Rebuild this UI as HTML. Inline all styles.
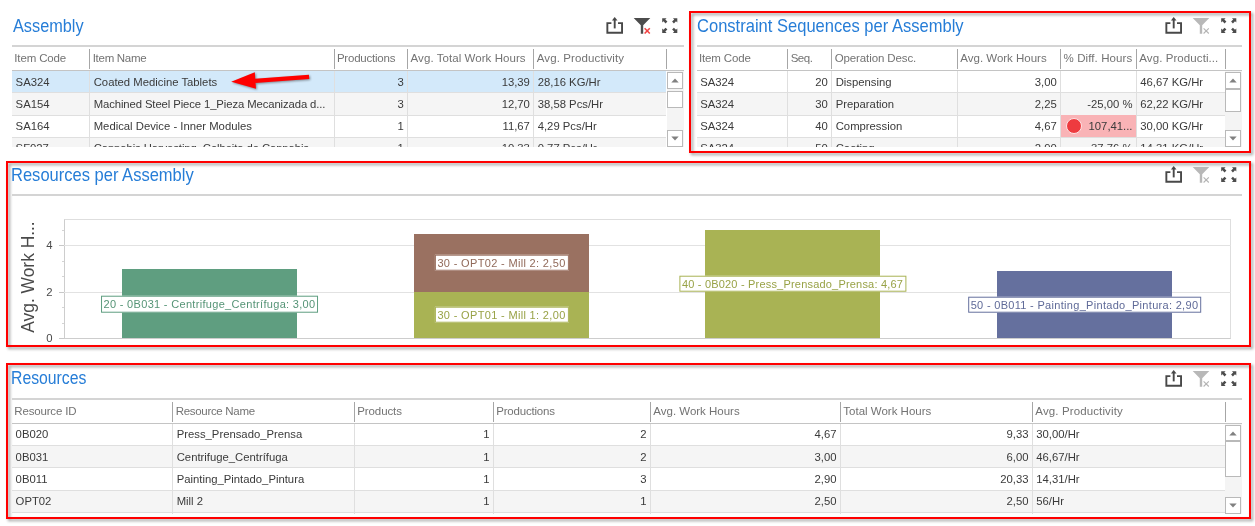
<!DOCTYPE html>
<html><head><meta charset="utf-8"><title>Dashboard</title><style>
*{box-sizing:border-box;margin:0;padding:0}
html,body{width:1255px;height:526px;overflow:hidden;background:#fff}
body{position:relative;font-family:"Liberation Sans",sans-serif;font-size:11.3px;color:#3a3a3a}
#wrap{position:absolute;left:0;top:0;width:1255px;height:526px;overflow:hidden;filter:blur(.4px)}
.abs{position:absolute}
.t{position:absolute;white-space:nowrap;line-height:1}
.title{color:#267dd7;transform-origin:0 50%;transform:scaleX(.926)}
.hd{color:#737373}
.r{text-align:right}
.red{position:absolute;border:2px solid #ff0000;filter:drop-shadow(2px 2px 1.8px rgba(0,0,0,.4))}
.ln{position:absolute;background:#d2d2d2}
.sep{position:absolute;background:#a8a8a8;width:1px}
.vl{position:absolute;background:#dedede;width:1px}
.hl{position:absolute;background:#dedede;height:1px}
.sbtrack{position:absolute;background:#f0f0f0}
.sbbtn{position:absolute;background:#fff;border:1px solid #b9b9b9}
.lbl{position:absolute;background:#fff;border:1px solid;font-family:"Liberation Sans",sans-serif;letter-spacing:.25px;white-space:nowrap;line-height:1}
</style></head><body><div id="wrap">
<div class="t title" style="left:12.60px;top:18px;font-size:17.6px;">Assembly</div>
<svg class="abs" style="left:606.00px;top:17.10px;overflow:visible" width="74" height="20" viewBox="0 0 74 20">
<g fill="none" stroke="#484848" stroke-width="1.9"><path d="M5.4 6.15H1.35V15.75H16.05V6.15H12"/><path d="M8.7 11.4V2"/></g>
<path d="M5.9 3.5L8.7 0L11.5 3.5Z" fill="#484848"/>
<path d="M27.7 1H44.3L37.2 8.3V16.7H34.8V8.3Z" fill="#4c4c4c"/>
<path d="M38.6 11.3L43.8 16.5M43.8 11.3L38.6 16.5" stroke="#f24444" stroke-width="1.6" fill="none"/>
<g fill="#4c4c4c"><path d="M56.2 1.2H60.6L59.3 2.5L61.4 4.6L59.6 6.4L57.5 4.3L56.2 5.6Z"/><path d="M71.3 1.2V5.6L70 4.3L67.9 6.4L66.1 4.6L68.2 2.5L66.9 1.2Z"/><path d="M56.2 15.9V11.5L57.5 12.8L59.6 10.7L61.4 12.5L59.3 14.6L60.6 15.9Z"/><path d="M71.3 15.9H66.9L68.2 14.6L66.1 12.5L67.9 10.7L70 12.8L71.3 11.5Z"/></g>
</svg>
<div class="abs" style="left:12.00px;top:45.00px;width:671.60px;height:2.00px;background:#d4d4d4;"></div>
<div class="abs" style="left:12.00px;top:70.00px;width:671.60px;height:1.00px;background:#c4c4c4;"></div>
<div class="abs" style="left:0;top:0;width:1255px;height:147.4px;overflow:hidden">
<div class="abs" style="left:12.00px;top:71.00px;width:654.40px;height:21.40px;background:#d3e9fa;"></div>
<div class="abs" style="left:12.00px;top:92.40px;width:654.40px;height:1.00px;background:#dfdfdf;"></div>
<div class="t " style="left:15.60px;top:77px;font-size:11.3px;">SA324</div>
<div class="t " style="left:93.70px;top:77px;font-size:11.3px;">Coated Medicine Tablets</div>
<div class="t " style="right:851.20px;top:77px;font-size:11.3px;">3</div>
<div class="t " style="right:725.10px;top:77px;font-size:11.3px;">13,39</div>
<div class="t " style="left:537.70px;top:77px;font-size:11.3px;">28,16 KG/Hr</div>
<div class="abs" style="left:12.00px;top:93.40px;width:654.40px;height:21.40px;background:#f5f5f5;"></div>
<div class="abs" style="left:12.00px;top:114.80px;width:654.40px;height:1.00px;background:#dfdfdf;"></div>
<div class="t " style="left:15.60px;top:99px;font-size:11.3px;">SA154</div>
<div class="t " style="left:93.70px;top:99px;font-size:11.3px;letter-spacing:-.1px">Machined Steel Piece 1_Pieza Mecanizada d...</div>
<div class="t " style="right:851.20px;top:99px;font-size:11.3px;">3</div>
<div class="t " style="right:725.10px;top:99px;font-size:11.3px;">12,70</div>
<div class="t " style="left:537.70px;top:99px;font-size:11.3px;">38,58 Pcs/Hr</div>
<div class="abs" style="left:12.00px;top:137.20px;width:654.40px;height:1.00px;background:#dfdfdf;"></div>
<div class="t " style="left:15.60px;top:121px;font-size:11.3px;">SA164</div>
<div class="t " style="left:93.70px;top:121px;font-size:11.3px;">Medical Device - Inner Modules</div>
<div class="t " style="right:851.20px;top:121px;font-size:11.3px;">1</div>
<div class="t " style="right:725.10px;top:121px;font-size:11.3px;">11,67</div>
<div class="t " style="left:537.70px;top:121px;font-size:11.3px;">4,29 Pcs/Hr</div>
<div class="abs" style="left:12.00px;top:138.20px;width:654.40px;height:21.40px;background:#f5f5f5;"></div>
<div class="abs" style="left:12.00px;top:159.60px;width:654.40px;height:1.00px;background:#dfdfdf;"></div>
<div class="t " style="left:15.60px;top:143px;font-size:11.3px;">SF027</div>
<div class="t " style="left:93.70px;top:143px;font-size:11.3px;letter-spacing:-.1px">Cannabis Harvesting_Colheita de Cannabis</div>
<div class="t " style="right:851.20px;top:143px;font-size:11.3px;">1</div>
<div class="t " style="right:725.10px;top:143px;font-size:11.3px;">10,33</div>
<div class="t " style="left:537.70px;top:143px;font-size:11.3px;">0,77 Pcs/Hr</div>
<div class="abs" style="left:89.40px;top:71.00px;width:1.00px;height:76.40px;background:#dfdfdf;"></div>
<div class="abs" style="left:333.60px;top:71.00px;width:1.00px;height:76.40px;background:#dfdfdf;"></div>
<div class="abs" style="left:407.30px;top:71.00px;width:1.00px;height:76.40px;background:#dfdfdf;"></div>
<div class="abs" style="left:533.40px;top:71.00px;width:1.00px;height:76.40px;background:#dfdfdf;"></div>
</div>
<div class="abs" style="left:89.40px;top:49.00px;width:1.00px;height:20.00px;background:#a6a6a6;"></div>
<div class="abs" style="left:333.60px;top:49.00px;width:1.00px;height:20.00px;background:#a6a6a6;"></div>
<div class="abs" style="left:407.30px;top:49.00px;width:1.00px;height:20.00px;background:#a6a6a6;"></div>
<div class="abs" style="left:533.40px;top:49.00px;width:1.00px;height:20.00px;background:#a6a6a6;"></div>
<div class="abs" style="left:666.40px;top:49.00px;width:1.00px;height:20.00px;background:#a6a6a6;"></div>
<div class="t hd" style="left:14.30px;top:53px;font-size:11.5px;letter-spacing:-0.138px">Item Code</div>
<div class="t hd" style="left:92.70px;top:53px;font-size:11.5px;letter-spacing:-0.28px">Item Name</div>
<div class="t hd" style="left:336.90px;top:53px;font-size:11.5px;letter-spacing:-0.213px">Productions</div>
<div class="t hd" style="left:410.60px;top:53px;font-size:11.5px;letter-spacing:0.061px">Avg. Total Work Hours</div>
<div class="t hd" style="left:536.70px;top:53px;font-size:11.5px;letter-spacing:0.123px">Avg. Productivity</div>
<div class="abs" style="left:666.60px;top:71.00px;width:17.40px;height:76.40px;background:#f4f4f4;"></div>
<div class="sbbtn" style="left:666.70px;top:72.40px;width:16.40px;height:16.4px"></div>
<svg class="abs" style="left:670.70px;top:78.20px" width="8" height="5" viewBox="0 0 8 5"><path d="M0.3 4.6L4 0.4L7.7 4.6Z" fill="#808080"/></svg>
<div class="sbbtn" style="left:666.70px;top:90.60px;width:16.40px;height:17.80px"></div>
<div class="sbbtn" style="left:666.70px;top:130.40px;width:16.40px;height:16.6px"></div>
<svg class="abs" style="left:670.70px;top:136.40px" width="8" height="5" viewBox="0 0 8 5"><path d="M0.3 0.4L4 4.6L7.7 0.4Z" fill="#808080"/></svg>
<svg class="abs" style="left:225px;top:66px;filter:drop-shadow(1.2px 1.2px .8px rgba(0,0,0,.4))" width="95" height="30" viewBox="225 66 95 30"><path d="M255 80.9L309.1 76.9" stroke="#ff0000" stroke-width="4.4" fill="none"/><path d="M231.2 81.8L254.8 72.2L256 88.7Z" fill="#ff0000"/></svg>
<div class="red" style="left:689px;top:11px;width:562px;height:142px"></div>
<div class="t title" style="left:696.60px;top:18px;font-size:17.7px;transform:scaleX(.935)">Constraint Sequences per Assembly</div>
<svg class="abs" style="left:1164.60px;top:17.10px;overflow:visible" width="74" height="20" viewBox="0 0 74 20">
<g fill="none" stroke="#484848" stroke-width="1.9"><path d="M5.4 6.15H1.35V15.75H16.05V6.15H12"/><path d="M8.7 11.4V2"/></g>
<path d="M5.9 3.5L8.7 0L11.5 3.5Z" fill="#484848"/>
<path d="M27.7 1H44.3L37.2 8.3V16.7H34.8V8.3Z" fill="#b8b8b8"/>
<path d="M38.6 11.3L43.8 16.5M43.8 11.3L38.6 16.5" stroke="#b4b4b4" stroke-width="1.1" fill="none"/>
<g fill="#4c4c4c"><path d="M56.2 1.2H60.6L59.3 2.5L61.4 4.6L59.6 6.4L57.5 4.3L56.2 5.6Z"/><path d="M71.3 1.2V5.6L70 4.3L67.9 6.4L66.1 4.6L68.2 2.5L66.9 1.2Z"/><path d="M56.2 15.9V11.5L57.5 12.8L59.6 10.7L61.4 12.5L59.3 14.6L60.6 15.9Z"/><path d="M71.3 15.9H66.9L68.2 14.6L66.1 12.5L67.9 10.7L70 12.8L71.3 11.5Z"/></g>
</svg>
<div class="abs" style="left:696.60px;top:45.00px;width:545.40px;height:2.00px;background:#d4d4d4;"></div>
<div class="abs" style="left:696.60px;top:70.00px;width:545.40px;height:1.00px;background:#c4c4c4;"></div>
<div class="abs" style="left:0;top:0;width:1255px;height:147.4px;overflow:hidden">
<div class="abs" style="left:696.60px;top:92.40px;width:528.20px;height:1.00px;background:#dfdfdf;"></div>
<div class="t " style="left:700.20px;top:77px;font-size:11.3px;">SA324</div>
<div class="t " style="right:427.10px;top:77px;font-size:11.3px;">20</div>
<div class="t " style="left:835.70px;top:77px;font-size:11.3px;">Dispensing</div>
<div class="t " style="right:198.20px;top:77px;font-size:11.3px;">3,00</div>
<div class="t " style="left:1140.30px;top:77px;font-size:11.3px;">46,67 KG/Hr</div>
<div class="abs" style="left:696.60px;top:93.40px;width:528.20px;height:21.40px;background:#f5f5f5;"></div>
<div class="abs" style="left:696.60px;top:114.80px;width:528.20px;height:1.00px;background:#dfdfdf;"></div>
<div class="t " style="left:700.20px;top:99px;font-size:11.3px;">SA324</div>
<div class="t " style="right:427.10px;top:99px;font-size:11.3px;">30</div>
<div class="t " style="left:835.70px;top:99px;font-size:11.3px;">Preparation</div>
<div class="t " style="right:198.20px;top:99px;font-size:11.3px;">2,25</div>
<div class="t " style="right:122.50px;top:99px;font-size:11.3px;">-25,00 %</div>
<div class="t " style="left:1140.30px;top:99px;font-size:11.3px;">62,22 KG/Hr</div>
<div class="abs" style="left:696.60px;top:137.20px;width:528.20px;height:1.00px;background:#dfdfdf;"></div>
<div class="abs" style="left:1061.00px;top:115.30px;width:75.00px;height:21.40px;background:#f9b3b6;"></div>
<div class="abs" style="left:1065.6px;top:118.40px;width:16px;height:16px;border-radius:50%;background:#ee3b3f;border:1px solid #fde4e5"></div>
<div class="t " style="left:700.20px;top:121px;font-size:11.3px;">SA324</div>
<div class="t " style="right:427.10px;top:121px;font-size:11.3px;">40</div>
<div class="t " style="left:835.70px;top:121px;font-size:11.3px;">Compression</div>
<div class="t " style="right:198.20px;top:121px;font-size:11.3px;">4,67</div>
<div class="t " style="right:122.50px;top:121px;font-size:11.3px;">107,41...</div>
<div class="t " style="left:1140.30px;top:121px;font-size:11.3px;">30,00 KG/Hr</div>
<div class="abs" style="left:696.60px;top:138.20px;width:528.20px;height:21.40px;background:#f5f5f5;"></div>
<div class="abs" style="left:696.60px;top:159.60px;width:528.20px;height:1.00px;background:#dfdfdf;"></div>
<div class="t " style="left:700.20px;top:143px;font-size:11.3px;">SA324</div>
<div class="t " style="right:427.10px;top:143px;font-size:11.3px;">50</div>
<div class="t " style="left:835.70px;top:143px;font-size:11.3px;">Coating</div>
<div class="t " style="right:198.20px;top:143px;font-size:11.3px;">2,90</div>
<div class="t " style="right:122.50px;top:143px;font-size:11.3px;">-37,76 %</div>
<div class="t " style="left:1140.30px;top:143px;font-size:11.3px;">14,31 KG/Hr</div>
<div class="abs" style="left:787.40px;top:71.00px;width:1.00px;height:76.40px;background:#dfdfdf;"></div>
<div class="abs" style="left:831.40px;top:71.00px;width:1.00px;height:76.40px;background:#dfdfdf;"></div>
<div class="abs" style="left:957.00px;top:71.00px;width:1.00px;height:76.40px;background:#dfdfdf;"></div>
<div class="abs" style="left:1060.30px;top:71.00px;width:1.00px;height:76.40px;background:#dfdfdf;"></div>
<div class="abs" style="left:1136.00px;top:71.00px;width:1.00px;height:76.40px;background:#dfdfdf;"></div>
</div>
<div class="abs" style="left:787.40px;top:49.00px;width:1.00px;height:20.00px;background:#a6a6a6;"></div>
<div class="abs" style="left:831.40px;top:49.00px;width:1.00px;height:20.00px;background:#a6a6a6;"></div>
<div class="abs" style="left:957.00px;top:49.00px;width:1.00px;height:20.00px;background:#a6a6a6;"></div>
<div class="abs" style="left:1060.30px;top:49.00px;width:1.00px;height:20.00px;background:#a6a6a6;"></div>
<div class="abs" style="left:1136.00px;top:49.00px;width:1.00px;height:20.00px;background:#a6a6a6;"></div>
<div class="abs" style="left:1224.80px;top:49.00px;width:1.00px;height:20.00px;background:#a6a6a6;"></div>
<div class="t hd" style="left:698.90px;top:53px;font-size:11.5px;letter-spacing:-0.138px">Item Code</div>
<div class="t hd" style="left:790.70px;top:53px;font-size:11.5px;letter-spacing:-0.5px">Seq.</div>
<div class="t hd" style="left:834.70px;top:53px;font-size:11.5px;letter-spacing:-0.107px">Operation Desc.</div>
<div class="t hd" style="left:960.30px;top:53px;font-size:11.5px;letter-spacing:-0.007px">Avg. Work Hours</div>
<div class="t hd" style="left:1063.60px;top:53px;font-size:11.5px;letter-spacing:0.089px">% Diff. Hours</div>
<div class="t hd" style="left:1139.30px;top:53px;font-size:11.5px;letter-spacing:0.082px">Avg. Producti...</div>
<div class="abs" style="left:1225.00px;top:71.00px;width:17.40px;height:76.40px;background:#f4f4f4;"></div>
<div class="sbbtn" style="left:1225.10px;top:72.40px;width:16.40px;height:16.4px"></div>
<svg class="abs" style="left:1229.10px;top:78.20px" width="8" height="5" viewBox="0 0 8 5"><path d="M0.3 4.6L4 0.4L7.7 4.6Z" fill="#808080"/></svg>
<div class="sbbtn" style="left:1225.10px;top:89.40px;width:16.40px;height:22.60px"></div>
<div class="sbbtn" style="left:1225.10px;top:130.40px;width:16.40px;height:16.6px"></div>
<svg class="abs" style="left:1229.10px;top:136.40px" width="8" height="5" viewBox="0 0 8 5"><path d="M0.3 0.4L4 4.6L7.7 0.4Z" fill="#808080"/></svg>
<div class="red" style="left:6px;top:161px;width:1245px;height:186px"></div>
<div class="t title" style="left:11.20px;top:167px;font-size:17.7px;transform:scaleX(.934)">Resources per Assembly</div>
<svg class="abs" style="left:1164.60px;top:166.10px;overflow:visible" width="74" height="20" viewBox="0 0 74 20">
<g fill="none" stroke="#484848" stroke-width="1.9"><path d="M5.4 6.15H1.35V15.75H16.05V6.15H12"/><path d="M8.7 11.4V2"/></g>
<path d="M5.9 3.5L8.7 0L11.5 3.5Z" fill="#484848"/>
<path d="M27.7 1H44.3L37.2 8.3V16.7H34.8V8.3Z" fill="#b8b8b8"/>
<path d="M38.6 11.3L43.8 16.5M43.8 11.3L38.6 16.5" stroke="#b4b4b4" stroke-width="1.1" fill="none"/>
<g fill="#4c4c4c"><path d="M56.2 1.2H60.6L59.3 2.5L61.4 4.6L59.6 6.4L57.5 4.3L56.2 5.6Z"/><path d="M71.3 1.2V5.6L70 4.3L67.9 6.4L66.1 4.6L68.2 2.5L66.9 1.2Z"/><path d="M56.2 15.9V11.5L57.5 12.8L59.6 10.7L61.4 12.5L59.3 14.6L60.6 15.9Z"/><path d="M71.3 15.9H66.9L68.2 14.6L66.1 12.5L67.9 10.7L70 12.8L71.3 11.5Z"/></g>
</svg>
<div class="abs" style="left:12.00px;top:194.00px;width:1230.00px;height:2.00px;background:#d4d4d4;"></div>
<div class="abs" style="left:64px;top:219.4px;width:1167px;height:119.19999999999999px;border:1px solid #dedede;border-left-color:#cdcdcd;border-bottom-color:#cdcdcd"></div>
<div class="abs" style="left:64.00px;top:291.70px;width:1167.00px;height:1.00px;background:#e2e2e2;"></div>
<div class="abs" style="left:64.00px;top:245.40px;width:1167.00px;height:1.00px;background:#e2e2e2;"></div>
<div class="abs" style="left:59.00px;top:338.00px;width:5.00px;height:1.00px;background:#c8c8c8;"></div>
<div class="t " style="right:1202.40px;top:333px;font-size:11.3px;color:#4a4a4a">0</div>
<div class="abs" style="left:59.00px;top:291.70px;width:5.00px;height:1.00px;background:#c8c8c8;"></div>
<div class="t " style="right:1202.40px;top:287px;font-size:11.3px;color:#4a4a4a">2</div>
<div class="abs" style="left:59.00px;top:245.40px;width:5.00px;height:1.00px;background:#c8c8c8;"></div>
<div class="t " style="right:1202.40px;top:240px;font-size:11.3px;color:#4a4a4a">4</div>
<div class="abs" style="left:62.00px;top:322.57px;width:2.00px;height:1.00px;background:#d4d4d4;"></div>
<div class="abs" style="left:62.00px;top:307.13px;width:2.00px;height:1.00px;background:#d4d4d4;"></div>
<div class="abs" style="left:62.00px;top:276.27px;width:2.00px;height:1.00px;background:#d4d4d4;"></div>
<div class="abs" style="left:62.00px;top:260.83px;width:2.00px;height:1.00px;background:#d4d4d4;"></div>
<div class="abs" style="left:62.00px;top:229.97px;width:2.00px;height:1.00px;background:#d4d4d4;"></div>
<div class="t" style="left:27.6px;top:277.2px;font-size:18.4px;color:#4a4a4a;transform:translate(-50%,-50%) rotate(-90deg) scaleX(.945)">Avg. Work H...</div>
<div class="abs" style="left:122.00px;top:268.55px;width:175.00px;height:69.45px;background:#5f9e80;"></div>
<div class="abs" style="left:414.00px;top:291.70px;width:175.00px;height:46.30px;background:#a9b354;"></div>
<div class="abs" style="left:414.00px;top:233.82px;width:175.00px;height:57.88px;background:#9a7161;"></div>
<div class="abs" style="left:705.00px;top:229.89px;width:175.00px;height:108.11px;background:#a9b354;"></div>
<div class="abs" style="left:997.00px;top:270.87px;width:175.00px;height:67.13px;background:#65709e;"></div>
<div class="lbl" style="left:209.50px;top:304.00px;transform:translate(-50%,-50%);border-color:#5f9e80;color:#559476;font-size:11px;letter-spacing:0.315px;padding:2.4px 2px 1.2px 2px">20 - 0B031 - Centrifuge_Centrífuga: 3,00</div>
<div class="lbl" style="left:501.50px;top:314.50px;transform:translate(-50%,-50%);border-color:#a9b354;color:#98a246;font-size:11px;letter-spacing:0.334px;padding:2.4px 2px 1.2px 2px">30 - OPT01 - Mill 1: 2,00</div>
<div class="lbl" style="left:501.50px;top:262.50px;transform:translate(-50%,-50%);border-color:#9a7161;color:#916a5a;font-size:11px;letter-spacing:0.334px;padding:2.4px 2px 1.2px 2px">30 - OPT02 - Mill 2: 2,50</div>
<div class="lbl" style="left:792.50px;top:283.60px;transform:translate(-50%,-50%);border-color:#a9b354;color:#98a246;font-size:11px;letter-spacing:0.195px;padding:2.4px 2px 1.2px 2px">40 - 0B020 - Press_Prensado_Prensa: 4,67</div>
<div class="lbl" style="left:1084.50px;top:304.60px;transform:translate(-50%,-50%);border-color:#65709e;color:#5f6a98;font-size:11px;letter-spacing:0.306px;padding:2.4px 2px 1.2px 2px">50 - 0B011 - Painting_Pintado_Pintura: 2,90</div>
<div class="red" style="left:6px;top:363px;width:1245px;height:156px"></div>
<div class="t title" style="left:11.20px;top:370px;font-size:17.6px;transform:scaleX(.897)">Resources</div>
<svg class="abs" style="left:1164.60px;top:369.60px;overflow:visible" width="74" height="20" viewBox="0 0 74 20">
<g fill="none" stroke="#484848" stroke-width="1.9"><path d="M5.4 6.15H1.35V15.75H16.05V6.15H12"/><path d="M8.7 11.4V2"/></g>
<path d="M5.9 3.5L8.7 0L11.5 3.5Z" fill="#484848"/>
<path d="M27.7 1H44.3L37.2 8.3V16.7H34.8V8.3Z" fill="#b8b8b8"/>
<path d="M38.6 11.3L43.8 16.5M43.8 11.3L38.6 16.5" stroke="#b4b4b4" stroke-width="1.1" fill="none"/>
<g fill="#4c4c4c"><path d="M56.2 1.2H60.6L59.3 2.5L61.4 4.6L59.6 6.4L57.5 4.3L56.2 5.6Z"/><path d="M71.3 1.2V5.6L70 4.3L67.9 6.4L66.1 4.6L68.2 2.5L66.9 1.2Z"/><path d="M56.2 15.9V11.5L57.5 12.8L59.6 10.7L61.4 12.5L59.3 14.6L60.6 15.9Z"/><path d="M71.3 15.9H66.9L68.2 14.6L66.1 12.5L67.9 10.7L70 12.8L71.3 11.5Z"/></g>
</svg>
<div class="abs" style="left:12.00px;top:397.60px;width:1230.00px;height:2.00px;background:#d4d4d4;"></div>
<div class="abs" style="left:12.00px;top:422.60px;width:1230.00px;height:1.00px;background:#c4c4c4;"></div>
<div class="abs" style="left:0;top:0;width:1255px;height:514px;overflow:hidden">
<div class="abs" style="left:12.00px;top:445.00px;width:1212.80px;height:1.00px;background:#dfdfdf;"></div>
<div class="t " style="left:15.60px;top:429px;font-size:11.3px;">0B020</div>
<div class="t " style="left:176.70px;top:429px;font-size:11.3px;">Press_Prensado_Prensa</div>
<div class="t " style="right:765.50px;top:429px;font-size:11.3px;">1</div>
<div class="t " style="right:608.50px;top:429px;font-size:11.3px;">2</div>
<div class="t " style="right:418.50px;top:429px;font-size:11.3px;">4,67</div>
<div class="t " style="right:226.50px;top:429px;font-size:11.3px;">9,33</div>
<div class="t " style="left:1036.30px;top:429px;font-size:11.3px;">30,00/Hr</div>
<div class="abs" style="left:12.00px;top:446.00px;width:1212.80px;height:21.40px;background:#f5f5f5;"></div>
<div class="abs" style="left:12.00px;top:467.40px;width:1212.80px;height:1.00px;background:#dfdfdf;"></div>
<div class="t " style="left:15.60px;top:452px;font-size:11.3px;">0B031</div>
<div class="t " style="left:176.70px;top:452px;font-size:11.3px;">Centrifuge_Centrífuga</div>
<div class="t " style="right:765.50px;top:452px;font-size:11.3px;">1</div>
<div class="t " style="right:608.50px;top:452px;font-size:11.3px;">2</div>
<div class="t " style="right:418.50px;top:452px;font-size:11.3px;">3,00</div>
<div class="t " style="right:226.50px;top:452px;font-size:11.3px;">6,00</div>
<div class="t " style="left:1036.30px;top:452px;font-size:11.3px;">46,67/Hr</div>
<div class="abs" style="left:12.00px;top:489.80px;width:1212.80px;height:1.00px;background:#dfdfdf;"></div>
<div class="t " style="left:15.60px;top:474px;font-size:11.3px;">0B011</div>
<div class="t " style="left:176.70px;top:474px;font-size:11.3px;">Painting_Pintado_Pintura</div>
<div class="t " style="right:765.50px;top:474px;font-size:11.3px;">1</div>
<div class="t " style="right:608.50px;top:474px;font-size:11.3px;">3</div>
<div class="t " style="right:418.50px;top:474px;font-size:11.3px;">2,90</div>
<div class="t " style="right:226.50px;top:474px;font-size:11.3px;">20,33</div>
<div class="t " style="left:1036.30px;top:474px;font-size:11.3px;">14,31/Hr</div>
<div class="abs" style="left:12.00px;top:490.80px;width:1212.80px;height:21.40px;background:#f5f5f5;"></div>
<div class="abs" style="left:12.00px;top:512.20px;width:1212.80px;height:1.00px;background:#dfdfdf;"></div>
<div class="t " style="left:15.60px;top:496px;font-size:11.3px;">OPT02</div>
<div class="t " style="left:176.70px;top:496px;font-size:11.3px;">Mill 2</div>
<div class="t " style="right:765.50px;top:496px;font-size:11.3px;">1</div>
<div class="t " style="right:608.50px;top:496px;font-size:11.3px;">1</div>
<div class="t " style="right:418.50px;top:496px;font-size:11.3px;">2,50</div>
<div class="t " style="right:226.50px;top:496px;font-size:11.3px;">2,50</div>
<div class="t " style="left:1036.30px;top:496px;font-size:11.3px;">56/Hr</div>
<div class="abs" style="left:172.40px;top:423.60px;width:1.00px;height:90.40px;background:#dfdfdf;"></div>
<div class="abs" style="left:354.00px;top:423.60px;width:1.00px;height:90.40px;background:#dfdfdf;"></div>
<div class="abs" style="left:493.00px;top:423.60px;width:1.00px;height:90.40px;background:#dfdfdf;"></div>
<div class="abs" style="left:650.00px;top:423.60px;width:1.00px;height:90.40px;background:#dfdfdf;"></div>
<div class="abs" style="left:840.00px;top:423.60px;width:1.00px;height:90.40px;background:#dfdfdf;"></div>
<div class="abs" style="left:1032.00px;top:423.60px;width:1.00px;height:90.40px;background:#dfdfdf;"></div>
</div>
<div class="abs" style="left:172.40px;top:401.60px;width:1.00px;height:20.00px;background:#a6a6a6;"></div>
<div class="abs" style="left:354.00px;top:401.60px;width:1.00px;height:20.00px;background:#a6a6a6;"></div>
<div class="abs" style="left:493.00px;top:401.60px;width:1.00px;height:20.00px;background:#a6a6a6;"></div>
<div class="abs" style="left:650.00px;top:401.60px;width:1.00px;height:20.00px;background:#a6a6a6;"></div>
<div class="abs" style="left:840.00px;top:401.60px;width:1.00px;height:20.00px;background:#a6a6a6;"></div>
<div class="abs" style="left:1032.00px;top:401.60px;width:1.00px;height:20.00px;background:#a6a6a6;"></div>
<div class="abs" style="left:1224.80px;top:401.60px;width:1.00px;height:20.00px;background:#a6a6a6;"></div>
<div class="t hd" style="left:14.30px;top:406px;font-size:11.5px;letter-spacing:-0.171px">Resource ID</div>
<div class="t hd" style="left:175.70px;top:406px;font-size:11.5px;letter-spacing:-0.307px">Resource Name</div>
<div class="t hd" style="left:357.30px;top:406px;font-size:11.5px;letter-spacing:-0.112px">Products</div>
<div class="t hd" style="left:496.30px;top:406px;font-size:11.5px;letter-spacing:-0.213px">Productions</div>
<div class="t hd" style="left:653.30px;top:406px;font-size:11.5px;letter-spacing:-0.007px">Avg. Work Hours</div>
<div class="t hd" style="left:843.30px;top:406px;font-size:11.5px;letter-spacing:0.001px">Total Work Hours</div>
<div class="t hd" style="left:1035.30px;top:406px;font-size:11.5px;letter-spacing:0.123px">Avg. Productivity</div>
<div class="abs" style="left:1225.00px;top:423.60px;width:17.40px;height:90.40px;background:#f4f4f4;"></div>
<div class="sbbtn" style="left:1225.10px;top:425.00px;width:16.40px;height:16.4px"></div>
<svg class="abs" style="left:1229.10px;top:430.80px" width="8" height="5" viewBox="0 0 8 5"><path d="M0.3 4.6L4 0.4L7.7 4.6Z" fill="#808080"/></svg>
<div class="sbbtn" style="left:1225.10px;top:441.20px;width:16.40px;height:36.20px"></div>
<div class="sbbtn" style="left:1225.10px;top:497.00px;width:16.40px;height:16.6px"></div>
<svg class="abs" style="left:1229.10px;top:503.00px" width="8" height="5" viewBox="0 0 8 5"><path d="M0.3 0.4L4 4.6L7.7 0.4Z" fill="#808080"/></svg>
</div></body></html>
